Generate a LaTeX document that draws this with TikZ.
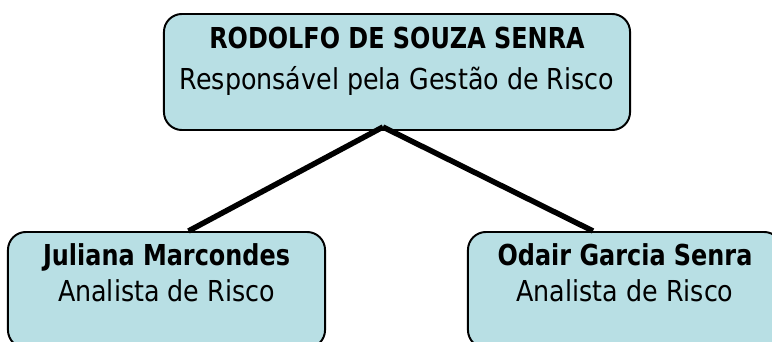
\documentclass[tikz,border=0pt]{standalone}
\usepackage{fontspec}
\setmainfont[FakeStretch=0.88,BoldFeatures={FakeStretch=0.83}]{DejaVu Sans}
\definecolor{azulclaro}{RGB}{184,223,228}
\begin{document}
\begin{tikzpicture}[x=0.025cm,y=-0.025cm]
		% estilos
		\tikzstyle{caixa}=[rectangle,draw,line width=1.4pt,fill=azulclaro,rounded corners=0.45cm,inner sep=0pt,minimum height=2.9cm]
		\tikzstyle{texto}=[align=center,anchor=north,inner sep=0pt,text=black,font=\fontsize{20.5}{29}\selectfont]
		\tikzstyle{liga}=[line width=3.9pt]
		\clip (0,0) rectangle (772,342);
		% as caixas
		\node[caixa,minimum width=11.65cm] (chefe) at (397,72) {};
		\node[caixa,minimum width=7.925cm] (juliana) at (166.5,290) {};
		\node[caixa,minimum width=7.85cm] (odair) at (625,290) {};
		% os textos
		\node[texto] (tchefe) at (397,27) {\textbf{RODOLFO DE SOUZA SENRA}\\Responsável pela Gestão de Risco};
		\node[texto,font=\fontsize{20.5}{26}\selectfont] (tjuliana) at (166.5,243) {\textbf{Juliana Marcondes}\\Analista de Risco};
		\node[texto,font=\fontsize{20.5}{26}\selectfont] (todair) at (625,243) {\textbf{Odair Garcia Senra}\\Analista de Risco};
		% as ligações
		\coordinate (topo) at ([xshift=-0.35cm,yshift=0.1cm]chefe.south);
		\draw[liga] (topo) -- ([xshift=0.55cm]juliana.north);
		\draw[liga] (topo) -- ([xshift=-0.8cm]odair.north);
	\end{tikzpicture}
\end{document}
